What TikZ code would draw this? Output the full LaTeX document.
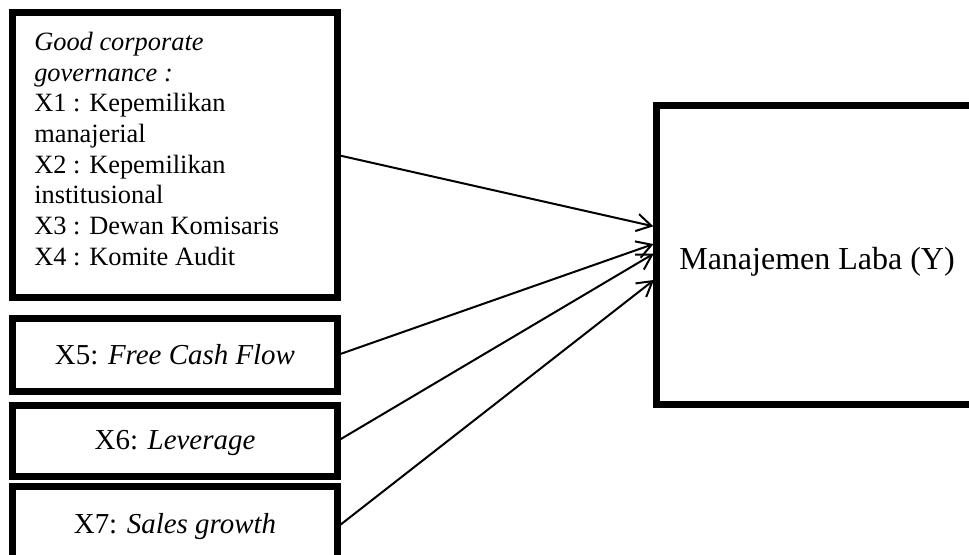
\documentclass[tikz,border=0pt]{standalone}
\usepackage{fontspec}
\setmainfont{Liberation Serif}
\usetikzlibrary{arrows.meta}
\begin{document}
\begin{tikzpicture}[x=0.75pt,y=-0.75pt,
  thickbox/.style={draw=black,line width=5.25pt,inner sep=0pt,outer sep=0pt},
  smalltext/.style={font=\fontsize{19.8}{23}\selectfont},
  midtext/.style={font=\fontsize{21.7}{25}\selectfont},
  bigtext/.style={font=\fontsize{24}{28}\selectfont},
  link/.style={line width=1.5pt,-{Straight Barb[length=11pt,width=13pt,line width=1.5pt]},shorten >=2.4pt}]
\clip (0,0) rectangle (969,555);
\fill[white] (0,0) rectangle (969,555);
% boxes
\node[thickbox,minimum width=243.75pt,minimum height=213.75pt] (gcg) at (175,155) {};
\node[smalltext,anchor=north west,inner sep=0pt,align=left] (gcgtext) at (34,32)
  {\textit{Good corporate}\\ \textit{governance :}\\ X1 : Kepemilikan\\ manajerial\\ X2 : Kepemilikan\\ institusional\\ X3 : Dewan Komisaris\\ X4 : Komite Audit};
\node[thickbox,midtext,minimum width=243.75pt,minimum height=54.75pt] (x5) at (175,355) {X5: \textit{Free Cash Flow}};
\node[thickbox,midtext,minimum width=243.75pt,minimum height=53.25pt] (x6) at (175,441) {};
\node[midtext,inner sep=0pt] (x6text) at (175,443) {X6: \textit{Leverage}};
\node[thickbox,midtext,minimum width=243.75pt,minimum height=60.75pt] (x7) at (175,527) {X7: \textit{Sales growth}};
\node[thickbox,minimum width=240.75pt,minimum height=224.25pt] (y) at (817,255) {};
\node[bigtext,inner sep=0pt] (ytext) at (817,262) {Manajemen Laba (Y)};
% connectors
\draw[link] (gcg.east) -- ([yshift=21pt]y.west);
\draw[link] (x5.east) -- ([yshift=9pt]y.west);
\draw[link] (x6.east) -- ([yshift=2.25pt]y.west);
\draw[link] (x7.east) -- ([yshift=-17.25pt]y.west);
\end{tikzpicture}
\end{document}
